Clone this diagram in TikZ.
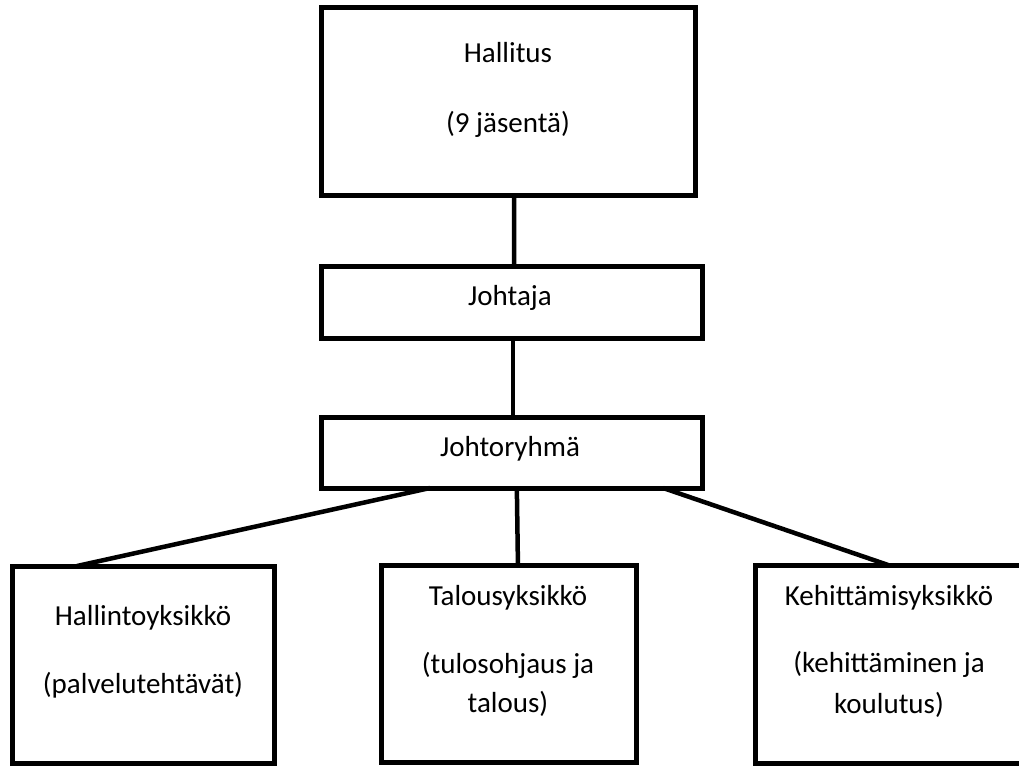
\documentclass[tikz,border=0pt]{standalone}
\usepackage{fontspec}
\setmainfont{Carlito}
\usetikzlibrary{calc}
\begin{document}
\begin{tikzpicture}[x=1pt,y=-1pt,
  box/.style={draw=black,line width=5pt,fill=white,inner sep=0pt,outer sep=0pt,rectangle},
  lbl/.style={anchor=base,inner sep=0pt,font=\fontsize{29}{35}\selectfont},
  conn/.style={line width=4.5pt,draw=black}]
\useasboundingbox (0,0) rectangle (1019,765);
% boxes
\node[box,minimum width=374pt,minimum height=187pt] (hal) at (508,101.5) {};
\node[box,minimum width=381pt,minimum height=72pt] (joh) at (511.5,302) {};
\node[box,minimum width=381pt,minimum height=71pt] (jory) at (511.5,452.5) {};
\node[box,minimum width=262pt,minimum height=197pt] (b1) at (143,664.5) {};
\node[box,minimum width=255pt,minimum height=197pt] (b2) at (508.5,663.5) {};
\node[box,minimum width=290pt,minimum height=198pt] (b3) at (900,664) {};
% connectors
\draw[conn] ($(hal.south west)!0.516!(hal.south east)$) -- ($(joh.north west)!0.507!(joh.north east)$);
\draw[conn] ($(joh.south west)!0.504!(joh.south east)$) -- ($(jory.north west)!0.504!(jory.north east)$);
\draw[conn] ($(jory.south west)!0.286!(jory.south east)$) -- ($(b1.north west)!0.248!(b1.north east)$);
\draw[conn] ($(jory.south west)!0.514!(jory.south east)$) -- ($(b2.north west)!0.537!(b2.north east)$);
\draw[conn] ($(jory.south west)!0.898!(jory.south east)$) -- ($(b3.north west)!0.459!(b3.north east)$);
% texts
\node[lbl] (t1) at (508,63) {Hallitus};
\node[lbl] (t2) at (508,132) {(9 jäsentä)};
\node[lbl] (t3) at (510,305) {Johtaja};
\node[lbl] (t4) at (510,456) {Johtoryhmä};
\node[lbl] (t5) at (143,625) {Hallintoyksikkö};
\node[lbl] (t6) at (143,693) {(palvelutehtävät)};
\node[lbl] (t7) at (508,605) {Talousyksikkö};
\node[lbl] (t8) at (508,673) {(tulosohjaus ja};
\node[lbl] (t9) at (508,712) {talous)};
\node[lbl] (t10) at (889,605) {Kehittämisyksikkö};
\node[lbl] (t11) at (889,672) {(kehittäminen ja};
\node[lbl] (t12) at (889,713) {koulutus)};
\end{tikzpicture}
\end{document}
